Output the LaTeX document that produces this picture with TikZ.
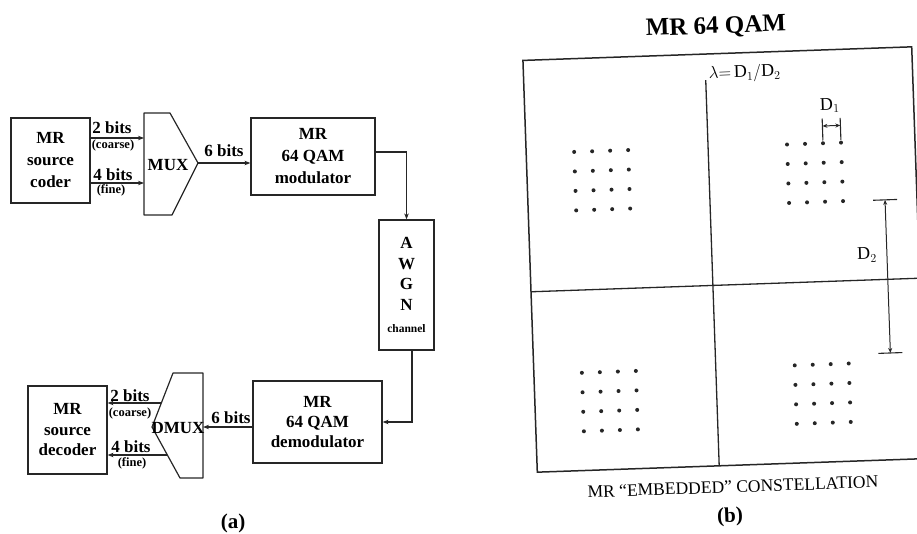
\documentclass[tikz,border=0pt]{standalone}
\usepackage{fontspec}
\setmainfont{Liberation Serif}
\usetikzlibrary{arrows.meta}
\begin{document}
\begin{tikzpicture}[x=1pt,y=-1pt,
  ln/.style={draw=black!85,line width=1.2pt},
  blk/.style={ln,align=center,inner sep=0pt,font=\fontsize{17}{22}\selectfont\bfseries},
  arr/.style={ln,-{Stealth[length=6pt,width=4.5pt]}},
  lbl/.style={inner sep=0pt,font=\fontsize{17}{17}\selectfont\bfseries},
  sml/.style={inner sep=0pt,font=\fontsize{12.5}{12.5}\selectfont\bfseries},
  dimarr/.style={draw=black!85,line width=1pt,{Stealth[length=5pt,width=4pt]}-{Stealth[length=5pt,width=4pt]}},
  dot/.style={fill=black!85}]
\useasboundingbox (0,0) rectangle (917,533);

% ---------------- (a) ----------------
\node[blk,minimum width=79pt,minimum height=85pt] (coder) at (50.5,160.5) {MR\\source\\coder};
\node[blk,minimum width=124pt,minimum height=77pt] (mod) at (313,156.5) {MR\\64 QAM\\modulator};
\node[blk,minimum width=55pt,minimum height=130pt,font=\fontsize{17}{20.5}\selectfont\bfseries] (awgn) at (406.5,285)
  {A\\W\\G\\N\\[2pt]{\fontsize{11.5}{11.5}\selectfont channel}};
\node[blk,minimum width=129pt,minimum height=82pt,font=\fontsize{17}{20}\selectfont\bfseries] (demod) at (317.5,422) {MR\\64 QAM\\demodulator};
\node[blk,minimum width=79pt,minimum height=88pt,font=\fontsize{17}{20.5}\selectfont\bfseries] (decoder) at (67.5,430) {MR\\source\\decoder};

% MUX
\draw[ln,line join=round] (144,113) -- (170,113) -- (198,163) -- (172,215) -- (144,215) -- cycle;
\node[lbl] (mux) at (168,165) {MUX};
\coordinate (muxin1) at (144,138);
\coordinate (muxin2) at (144,183);
\coordinate (muxout) at (198,163);

% DMUX
\draw[ln,line join=round] (173,373) -- (203,373) -- (203,478) -- (180,478) -- (152,427) -- cycle;
\node[lbl] (dmux) at (178,428) {DMUX};
\coordinate (dmuxout) at (203,427);
\coordinate (dmuxin1) at (161,403);
\coordinate (dmuxin2) at (167,455);

% connectors
\draw[arr] (coder.east |- muxin1) -- (muxin1);
\draw[arr] (coder.east |- muxin2) -- (muxin2);
\node[lbl] (l2a) at (112,128) {2 bits};
\node[sml] (lca) at (113,145.5) {(coarse)};
\node[lbl] (l4a) at (113,174.5) {4 bits};
\node[sml] (lfa) at (111,190.5) {(fine)};

\draw[arr] (muxout) -- (mod.west |- muxout);
\node[lbl] (l6a) at (224,151) {6 bits};

\coordinate (modout) at (375,152);
\draw[arr] (mod.east |- modout) -| (awgn.north);
\coordinate (awgnout) at (412,350);
\draw[arr] (awgnout) |- (demod.east);

\draw[arr] (demod.west |- dmuxout) -- (dmuxout);
\node[lbl] (l6b) at (231,418) {6 bits};

\draw[arr] (dmuxin1) -- (decoder.east |- dmuxin1);
\draw[arr] (dmuxin2) -- (decoder.east |- dmuxin2);
\node[lbl] (l2b) at (130,396) {2 bits};
\node[sml] (lcb) at (130,413) {(coarse)};
\node[lbl] (l4b) at (131,446.5) {4 bits};
\node[sml] (lfb) at (132,463) {(fine)};

\node[inner sep=0pt,font=\fontsize{21}{21}\selectfont\bfseries] (capa) at (233,523) {(a)};

% ---------------- (b) ----------------
\begin{scope}[rotate around={2:(724.5,259.5)}]
  \node[transform shape,inner sep=0pt,font=\fontsize{25}{25}\selectfont\bfseries] (title) at (724,27) {MR 64 QAM};
  \draw[draw=black!85,line width=1.5pt] (530,53.5) rectangle (919,465.5);
  \draw[draw=black!85,line width=1.3pt] (712,79.5) -- (712,465.5);
  \draw[draw=black!85,line width=1.3pt] (530,285) -- (919,285);
  \foreach \cx in {578,596,614,632,791,809,827,845}{
    \foreach \cy in {146.75,166.25,185.75,205.25,367.75,387.25,406.75,426.25}{
      \fill[dot] (\cx,\cy) circle (2);
    }
  }
  \node[transform shape,anchor=west,inner sep=0pt,font=\fontsize{18}{18}\selectfont] (lam) at (715,74)
    {$\lambda{=}\,\mathrm{D}_1\Big/\mathrm{D}_2$};
  % D1
  \draw[draw=black!85,line width=1.1pt] (827,122) -- (827,144);
  \draw[draw=black!85,line width=1.1pt] (845,122) -- (845,144);
  \draw[dimarr] (827,129.5) -- (845,129.5);
  \node[transform shape,inner sep=0pt,font=\fontsize{18}{18}\selectfont] (d1) at (835,109) {$\mathrm{D}_1$};
  % D2
  \draw[draw=black!85,line width=1.1pt] (875,205.5) -- (899,205.5);
  \draw[draw=black!85,line width=1.1pt] (875,358.7) -- (899,358.7);
  \draw[dimarr] (887,205.5) -- (887,358.7);
  \node[transform shape,inner sep=0pt,font=\fontsize{18}{18}\selectfont] (d2) at (867,260) {$\mathrm{D}_2$};
  \node[transform shape,inner sep=0pt,font=\fontsize{17.5}{17.5}\selectfont] (capt) at (725,487) {MR ``EMBEDDED'' CONSTELLATION};
  \node[transform shape,inner sep=0pt,font=\fontsize{21}{21}\selectfont\bfseries] (capb) at (721,517) {(b)};
\end{scope}
\end{tikzpicture}
\end{document}
